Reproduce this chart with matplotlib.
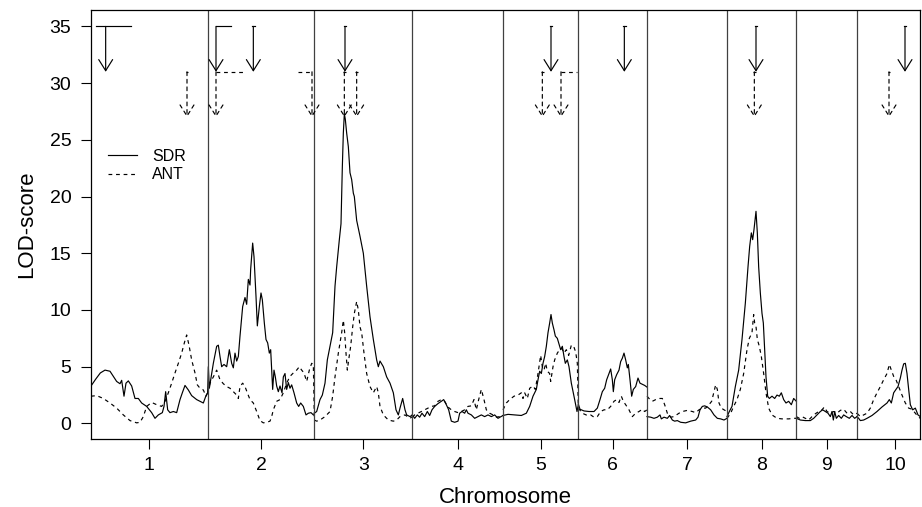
"""
Perfil de LOD-score ao longo dos 10 cromossomos para SDR e ANT,
com as setas marcando os QTLs detectados em cada caráter.
"""

import numpy as np
import matplotlib.pyplot as plt

plt.rcParams['font.family'] = ['Liberation Sans', 'DejaVu Sans']

CHROMOSOMES = ['1', '2', '3', '4', '5', '6', '7', '8', '9', '10']
chr_lengths = [175, 160, 147, 136, 113, 103, 120, 104, 91, 114]  # cM

# (posição cM, LOD) por cromossomo
sdr_chr1 = [(0, 3.3), (7, 3.9), (14, 4.45), (21, 4.7), (28.5, 4.6), (38.5, 3.7), (43.5, 3.5),
            (46, 3.8), (49.5, 2.4), (52.5, 3.55), (56, 3.75), (61, 3.3), (66, 2.2), (71, 2.2),
            (76, 1.8), (83.5, 1.5), (91, 0.95), (96, 0.45), (101, 0.75), (107, 0.95),
            (109.5, 1.5), (112, 2.8), (115, 1.2), (118.5, 0.95), (123.5, 1.05), (128.5, 0.95),
            (133.5, 2.1), (137, 2.7), (141, 3.35), (146, 2.95), (151, 2.45), (158.5, 2.1),
            (163.5, 1.95), (168.5, 1.8), (172.5, 2.45), (175, 2.7)]
ant_chr1 = [(0, 2.4), (8.5, 2.45), (18.5, 2.2), (28.5, 1.8), (38.5, 1.35), (48.5, 0.75),
            (58.5, 0.25), (68.5, 0.05), (73.5, 0.1), (78.5, 0.6), (83.5, 1.5), (91, 1.85),
            (98.5, 1.65), (106, 1.5), (111, 1.95), (116, 2.7), (121, 3.55), (126, 4.45),
            (131, 5.3), (136, 6.2), (140, 7.1), (143.5, 7.8), (147, 6.9), (151, 5.6),
            (156, 4.45), (159.5, 3.4), (163.5, 3.1), (168.5, 2.95), (172.5, 2.4), (175, 2.7)]

sdr_chr2 = [(0, 2.7), (1, 5.0), (2.5, 3.1), (8.5, 5.3), (13.5, 6.8), (16, 6.9), (18.5, 5.9),
            (21, 5.0), (24.5, 5.2), (28.5, 5.0), (32.5, 6.5), (36, 5.3), (38.5, 4.9), (41, 6.2),
            (43.5, 5.5), (46, 5.9), (48.5, 7.7), (52.5, 10.3), (56, 11.1), (58.5, 10.5),
            (61, 12.7), (63.5, 12.2), (64.5, 13.6), (67.5, 15.9), (69.5, 14.7), (72.5, 11.2),
            (74.5, 8.6), (77.5, 10.3), (80, 11.5), (82, 10.9), (85, 8.85), (87.5, 7.4),
            (90, 7.1), (92.5, 6.2), (94.5, 6.5), (97.5, 3.0), (99.5, 4.7), (101.5, 4.1),
            (103.5, 3.3), (106, 2.8), (108.5, 3.3), (111.5, 2.7), (113.5, 4.1), (116, 4.4),
            (118.5, 3.0), (121, 3.6), (123.5, 3.1), (126, 3.4), (129.5, 2.7), (133.5, 1.8),
            (136.5, 1.5), (139.5, 1.8), (143.5, 1.5), (147.5, 0.75), (151, 0.9), (155, 0.95),
            (158.5, 0.75), (160, 0.75)]
ant_chr2 = [(0, 2.7), (3.5, 3.55), (8.5, 4.1), (13.5, 4.7), (18.5, 3.85), (23.5, 3.5),
            (28.5, 3.25), (33.5, 3.1), (38.5, 2.8), (43.5, 2.5), (46, 2.2), (48.5, 3.25),
            (52.5, 3.55), (56, 3.25), (59.5, 2.7), (63.5, 2.1), (68.5, 1.8), (73.5, 1.05),
            (78.5, 0.25), (83.5, 0.05), (88.5, 0.1), (93.5, 0.2), (96, 0.6), (98.5, 1.2),
            (103.5, 1.95), (108.5, 2.1), (113.5, 2.7), (118.5, 3.55), (123.5, 4.15),
            (128.5, 4.45), (133.5, 4.7), (137.5, 5.0), (141, 4.7), (144.5, 4.45), (148.5, 3.7),
            (152.5, 4.7), (156, 5.3), (158.5, 5.2), (160, 0.4)]

sdr_chr3 = [(0, 0.9), (3.5, 1.05), (8.5, 2.1), (12, 2.5), (16, 3.55), (19.5, 5.6), (23.5, 6.8),
            (27.5, 8.0), (31, 12.1), (33.5, 13.8), (37.5, 16.2), (40, 17.6), (42, 22.6),
            (43.5, 25.6), (45, 27.3), (46.5, 26.8), (48.5, 25.6), (51, 24.4), (53.5, 22.1),
            (56, 21.5), (58.5, 20.3), (60, 20.0), (63.5, 17.9), (68.5, 16.5), (73.5, 15.0),
            (78.5, 12.1), (83.5, 9.4), (88.5, 7.4), (93.5, 5.6), (96, 5.0), (98.5, 5.5),
            (103.5, 5.0), (108.5, 4.1), (113.5, 3.55), (118.5, 2.7), (122.5, 1.2), (126, 0.75),
            (128.5, 1.35), (132.5, 2.2), (136, 1.2), (138.5, 0.75), (143.5, 0.6), (147, 0.75)]
ant_chr3 = [(0, 0.3), (3.5, 0.2), (8.5, 0.3), (16, 0.6), (23.5, 1.05), (27.5, 2.4), (31, 4.1),
            (36, 6.2), (41, 8.0), (43.5, 9.1), (45.5, 8.0), (47.5, 6.2), (49.5, 4.7),
            (51.5, 5.6), (54.5, 6.8), (57.5, 8.5), (60, 9.7), (63.5, 10.75), (66, 10.0),
            (68.5, 8.5), (71, 8.0), (74.5, 6.2), (78.5, 4.4), (83.5, 3.25), (88.5, 2.7),
            (93.5, 3.25), (96, 2.7), (98.5, 1.5), (103.5, 0.75), (111, 0.3), (118.5, 0.2),
            (123.5, 0.3), (128.5, 0.6), (136, 0.75), (143.5, 0.45), (147, 0.6)]

sdr_chr4 = [(0, 0.75), (3.5, 0.45), (7.5, 0.75), (11, 0.55), (14.5, 0.9), (18.5, 0.6),
            (22.5, 1.05), (26, 0.7), (29.5, 1.2), (33.5, 1.5), (38.5, 1.75), (43.5, 1.95),
            (47, 2.1), (51, 1.65), (54.5, 1.2), (58.5, 0.2), (63.5, 0.1), (68.5, 0.2), (71, 0.9),
            (74.5, 1.05), (78.5, 0.9), (81, 1.2), (83.5, 0.9), (88.5, 0.75), (93.5, 0.45),
            (98.5, 0.6), (103.5, 0.75), (108.5, 0.6), (113.5, 0.75), (118.5, 0.6),
            (123.5, 0.75), (128.5, 0.45), (136, 0.7)]
ant_chr4 = [(0, 0.55), (3.5, 0.75), (8.5, 0.9), (13.5, 1.05), (18.5, 1.2), (23.5, 1.35),
            (28.5, 1.5), (33.5, 1.55), (38.5, 1.95), (43.5, 2.1), (48.5, 1.95), (53.5, 1.45),
            (58.5, 1.2), (63.5, 1.05), (68.5, 0.95), (73.5, 1.05), (78.5, 1.2), (83.5, 1.5),
            (88.5, 1.55), (92.5, 2.1), (96, 1.2), (99.5, 2.1), (103.5, 3.0), (107.5, 2.1),
            (111, 1.2), (116, 0.9), (121, 0.75), (126, 0.55), (131, 0.6), (136, 0.75)]

sdr_chr5 = [(0, 0.7), (7.5, 0.8), (17.5, 0.75), (27.5, 0.7), (35, 0.9), (40, 1.5), (45, 2.4),
            (50, 3.0), (52.5, 3.85), (55, 4.6), (57.5, 4.4), (60, 5.3), (62.5, 5.9), (65, 6.8),
            (67.5, 8.0), (70, 8.85), (72, 9.6), (74, 8.85), (76.5, 8.25), (78.5, 7.7),
            (81.5, 7.5), (83.5, 7.1), (86.5, 6.5), (89, 6.8), (91.5, 5.9), (93.5, 5.3),
            (96.5, 5.6), (99, 5.0), (102.5, 3.55), (107.5, 2.1), (111, 1.05), (113, 1.65)]
ant_chr5 = [(0, 1.2), (5, 1.8), (10, 2.1), (16.5, 2.4), (22.5, 2.5), (27.5, 2.7), (30, 2.2),
            (32.5, 2.7), (36.5, 2.2), (40, 3.1), (45, 3.3), (48.5, 3.0), (52.5, 4.4),
            (56.5, 6.0), (59, 5.0), (61.5, 4.7), (64, 5.3), (66.5, 4.6), (70, 4.4), (71.5, 3.7),
            (75, 5.0), (77.5, 5.6), (81.5, 6.2), (85, 6.5), (88.5, 6.6), (91.5, 6.2),
            (95, 6.5), (98.5, 6.0), (102.5, 6.9), (106, 6.8), (109, 6.3), (111.5, 5.3),
            (113, 1.2)]

sdr_chr6 = [(0, 1.7), (2.5, 1.25), (8.5, 1.1), (16, 1.05), (23.5, 1.05), (28.5, 1.35),
            (32.5, 2.1), (36, 2.8), (39.5, 3.1), (42.5, 3.85), (46, 4.4), (48.5, 4.8),
            (51, 3.85), (52.5, 2.8), (54.5, 3.85), (57.5, 4.3), (61, 4.7), (63.5, 5.45),
            (66, 5.75), (68.5, 6.2), (71, 5.6), (73.5, 4.9), (75, 5.2), (77.5, 3.85), (80, 2.4),
            (82.5, 3.0), (86, 3.25), (89.5, 4.0), (92.5, 3.55), (96, 3.45), (99.5, 3.35),
            (103, 3.2)]
ant_chr6 = [(0, 1.35), (6, 0.9), (13.5, 0.7), (18.5, 0.75), (23.5, 0.55), (28.5, 0.6),
            (33.5, 1.05), (38.5, 1.2), (43.5, 1.2), (48.5, 1.5), (53.5, 1.95), (57.5, 2.1),
            (61, 1.85), (64.5, 2.4), (67.5, 1.95), (71, 1.65), (76, 1.2), (81, 0.6), (86, 0.9),
            (91, 1.05), (96, 1.25), (99.5, 1.05), (103, 1.2)]

sdr_chr7 = [(0, 0.6), (5.5, 0.55), (10.5, 0.45), (15.5, 0.55), (19.5, 0.75), (21.5, 0.4),
            (25.5, 0.55), (30.5, 0.45), (34, 0.7), (38, 0.3), (41.5, 0.2), (45.5, 0.25),
            (50.5, 0.1), (58, 0.05), (65.5, 0.2), (73, 0.3), (76.5, 0.55), (79.5, 1.2),
            (83, 1.5), (86.5, 1.55), (90.5, 1.45), (95.5, 1.2), (100.5, 0.75), (105.5, 0.45),
            (110.5, 0.4), (115.5, 0.3), (120, 0.45)]
ant_chr7 = [(0, 2.4), (3, 2.2), (8, 1.95), (13, 2.1), (18, 2.2), (23, 2.2), (26.5, 1.65),
            (30.5, 0.9), (35.5, 0.55), (40.5, 0.6), (48, 0.9), (53, 1.05), (60.5, 1.15),
            (68, 1.05), (73, 0.95), (78, 1.2), (83, 1.35), (88, 1.35), (93, 1.65), (97, 1.95),
            (100.5, 2.8), (103, 3.4), (105.5, 3.0), (108, 1.8), (111.5, 1.35), (115.5, 1.2),
            (120, 1.05)]

sdr_chr8 = [(0, 0.6), (3.5, 1.05), (7.5, 1.5), (12.5, 3.25), (17.5, 4.7), (22.5, 7.4),
            (27.5, 10.6), (31.5, 13.8), (34, 15.6), (36.5, 16.8), (38.5, 16.2), (40.5, 17.1),
            (43.5, 18.7), (45.5, 16.8), (47.5, 13.8), (50, 11.5), (52.5, 9.7), (54.5, 8.85),
            (56.5, 6.5), (58.5, 4.1), (61, 2.4), (63.5, 2.2), (67.5, 2.4), (71.5, 2.2), (75, 2.5),
            (78.5, 2.4), (81.5, 2.7), (85, 2.1), (88.5, 1.8), (92.5, 1.95), (96.5, 1.65),
            (100, 2.2), (104, 1.95)]
ant_chr8 = [(0, 0.45), (5.5, 0.9), (10, 1.5), (15, 2.1), (20, 3.0), (25, 4.4), (30, 6.5),
            (33.5, 7.5), (37.5, 8.0), (40, 9.6), (41.5, 8.85), (43.5, 8.55), (45.5, 7.4),
            (48.5, 6.8), (51.5, 5.9), (55, 4.4), (58.5, 2.7), (62.5, 1.35), (67.5, 0.75),
            (75, 0.45), (82.5, 0.4), (92.5, 0.4), (100, 0.45), (104, 0.45)]

sdr_chr9 = [(0, 0.45), (6, 0.3), (13.5, 0.25), (21, 0.25), (26, 0.45), (31, 0.75), (36, 1.05),
            (39.5, 1.2), (43.5, 1.05), (47.5, 0.9), (51, 0.6), (53.5, 1.05), (55.5, 0.3),
            (57.5, 1.05), (60, 0.45), (63.5, 0.7), (67.5, 0.45), (71, 0.75), (75, 0.6),
            (79.5, 0.45), (83.5, 0.7), (87.5, 0.45), (91, 0.6)]
ant_chr9 = [(0, 0.6), (4.5, 0.45), (8.5, 0.6), (13.5, 0.45), (18.5, 0.3), (23.5, 0.6),
            (28.5, 0.85), (33.5, 1.05), (38.5, 1.2), (42, 1.45), (46, 1.05), (51, 0.9),
            (56, 1.05), (61, 0.9), (66, 1.15), (71, 1.25), (76, 0.9), (81, 1.05), (86, 0.75),
            (91, 0.9)]

sdr_chr10 = [(0, 0.6), (2.5, 0.45), (5, 0.25), (10, 0.3), (15, 0.45), (22.5, 0.7), (30, 1.05),
             (37.5, 1.45), (45, 1.8), (48.5, 2.1), (51.5, 1.8), (55, 2.7), (58.5, 3.0),
             (61.5, 3.25), (65, 4.0), (67.5, 4.7), (70, 5.25), (72.5, 5.3), (75, 4.4),
             (77.5, 3.0), (80, 1.65), (83.5, 1.2), (87.5, 1.35), (91.5, 0.75), (95, 0.6)]
ant_chr10 = [(0, 0.9), (5, 0.6), (10, 0.75), (15, 0.9), (20, 1.35), (25, 2.1), (30, 2.7),
             (35, 3.25), (40, 3.85), (45, 4.4), (48.5, 5.2), (51.5, 4.7), (55, 4.15),
             (58.5, 3.85), (62.5, 3.25), (67.5, 2.5), (72.5, 1.8), (77.5, 1.35), (82.5, 1.25),
             (87.5, 0.9), (91.5, 0.6), (95, 0.45)]

sdr_curves = [sdr_chr1, sdr_chr2, sdr_chr3, sdr_chr4, sdr_chr5,
              sdr_chr6, sdr_chr7, sdr_chr8, sdr_chr9, sdr_chr10]
ant_curves = [ant_chr1, ant_chr2, ant_chr3, ant_chr4, ant_chr5,
              ant_chr6, ant_chr7, ant_chr8, ant_chr9, ant_chr10]

# QTLs: (cromossomo, posição, início do intervalo, fim do intervalo) em cM
sdr_qtls = [(1, 22, 7, 59.5), (2, 12.5, 12.5, 34.5), (2, 68.5, 66.5, 70.5), (3, 46, 44, 48),
            (5, 72, 70, 74), (6, 69, 67, 71), (8, 43.5, 41.5, 45.5), (10, 72, 70, 74)]
ant_qtls = [(1, 144, 142, 146), (2, 12.5, 12.5, 53.5), (2, 156.5, 135, 156.5),
            (3, 45, 43, 47), (3, 63.5, 61.5, 65.5), (5, 59, 57, 61), (5, 87, 87, 110.5),
            (8, 41, 39, 43), (10, 48, 46, 50)]

DASHES = (0, (3.2, 3.2))
LW = 0.85

offsets = np.concatenate([[0], np.cumsum(chr_lengths)[:-1]])
mids = offsets + np.array(chr_lengths) / 2

fig = plt.figure(figsize=(9.22, 5.07), dpi=100)
ax = fig.add_axes([91 / 922, 67.7 / 507, 829 / 922, 429.3 / 507])

for i in range(len(CHROMOSOMES)):
    pos, lod = np.array(sdr_curves[i]).T
    h_sdr, = ax.plot(offsets[i] + pos, lod, color='black', lw=LW)
    pos, lod = np.array(ant_curves[i]).T
    h_ant, = ax.plot(offsets[i] + pos, lod, color='black', lw=LW, linestyle=DASHES)

# separação entre cromossomos
for off in offsets[1:]:
    ax.axvline(off, color='0.25', lw=0.9)


def draw_qtls(qtls, top, tip, ls):
    for c, p, lo, hi in qtls:
        off = offsets[c - 1]
        ax.plot([off + lo, off + hi], [top, top], color='black', lw=LW, linestyle=ls)
        ax.annotate('', xy=(off + p, tip), xytext=(off + p, top),
                    arrowprops=dict(arrowstyle='->,head_length=8,head_width=5',
                                    mutation_scale=1, color='black', lw=LW, linestyle=ls,
                                    shrinkA=0, shrinkB=0))


draw_qtls(sdr_qtls, 35, 31, '-')
draw_qtls(ant_qtls, 31, 27, DASHES)

ax.legend([h_sdr, h_ant], ['SDR', 'ANT'], loc='upper left', bbox_to_anchor=(0.021, 0.677),
          frameon=False, fontsize=11.5, handlelength=1.8, handletextpad=0.95,
          labelspacing=0.22, borderaxespad=0, borderpad=0)

ax.set_xlim(0, 1243.5)
ax.set_ylim(-1.4, 36.45)
ax.set_xticks(mids, CHROMOSOMES)
ax.set_yticks(range(0, 36, 5))
ax.tick_params(axis='both', direction='out', length=7.2, width=0.8, labelsize=14)
ax.tick_params(axis='y', pad=7)
ax.tick_params(axis='x', pad=5.5)
for s in ax.spines.values():
    s.set_linewidth(0.9)

ax.set_xlabel('Chromosome', fontsize=16)
ax.set_ylabel('LOD-score', fontsize=16)
ax.xaxis.set_label_coords(0.5, -0.111)
ax.yaxis.set_label_coords(-0.065, 0.5)

fig.savefig('out.png', dpi=100)
